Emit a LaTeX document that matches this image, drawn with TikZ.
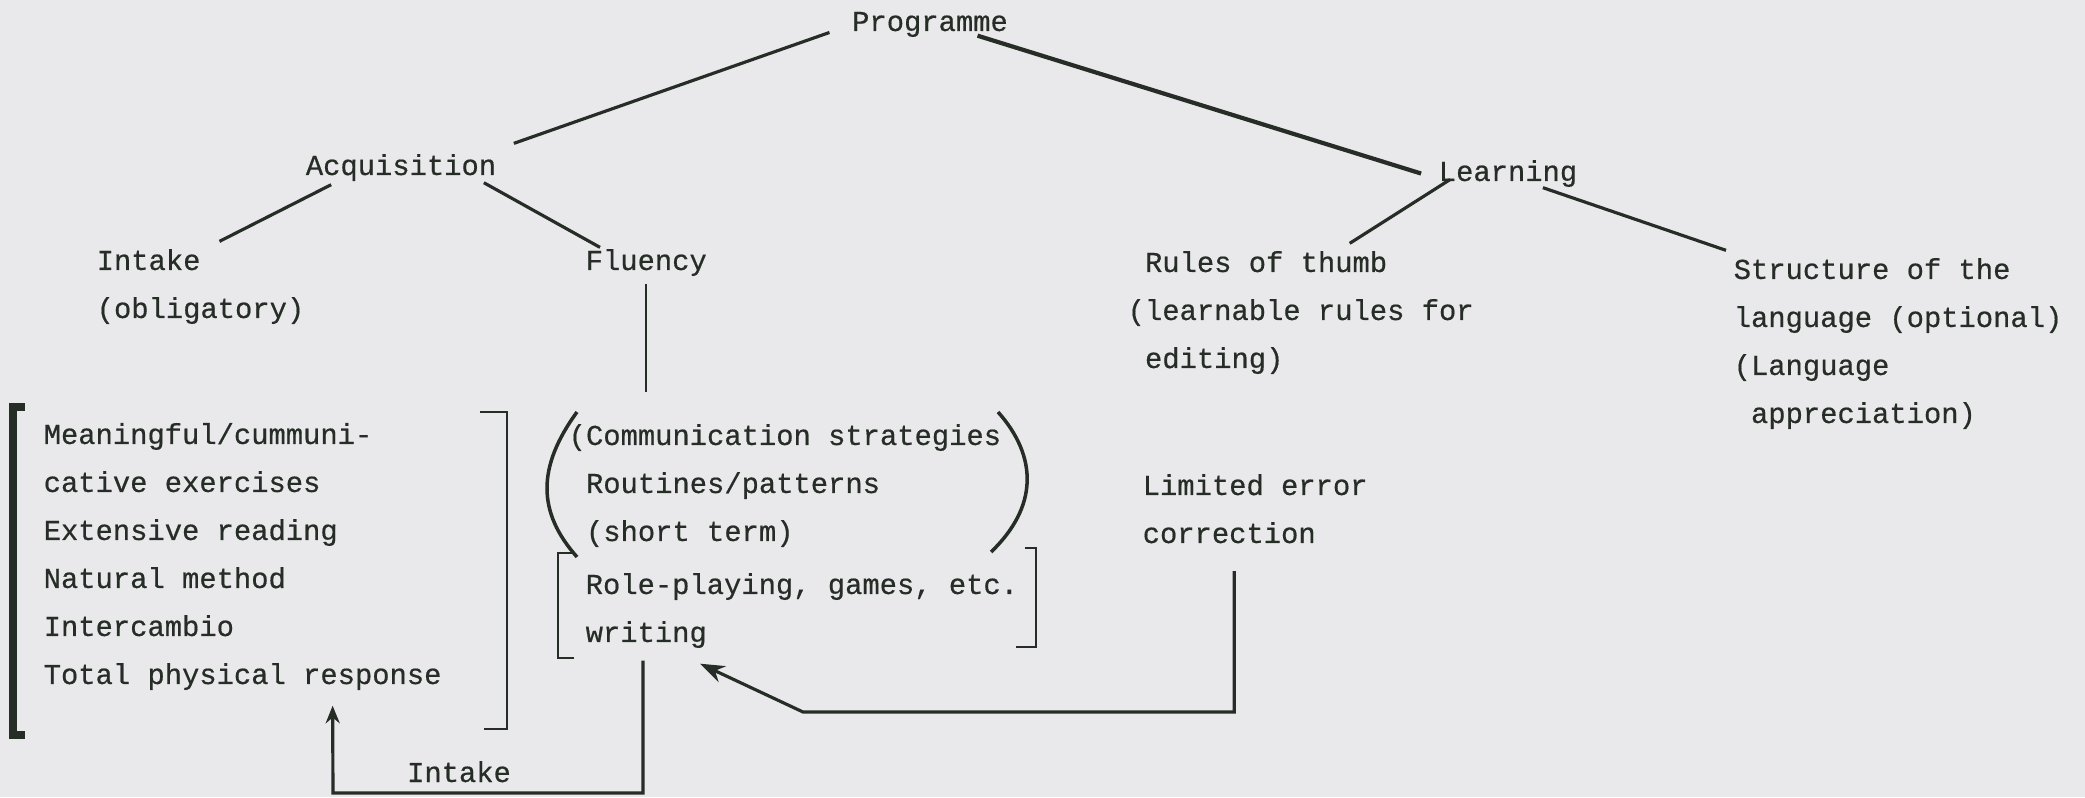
\documentclass[tikz,border=0pt]{standalone}
\usepackage{fontspec}
\setmonofont{Liberation Mono}[FakeBold=0.5]
\usetikzlibrary{arrows.meta}
\definecolor{ink}{RGB}{38,44,38}
\definecolor{paper}{RGB}{233,233,235}

\begin{document}
\begin{tikzpicture}[
    txt/.style={font=\ttfamily\fontsize{8.2}{13.66}\selectfont, text=ink, inner sep=2pt, align=left},
    branch/.style={ink, line width=0.9pt},
    feed/.style={ink, line width=0.9pt, -{Stealth[length=7pt,width=5pt]}},
    brk/.style={ink, line width=0.6pt}
  ]
  % Paper
  \fill[paper] (0,0) rectangle (20.85,7.97);
  \useasboundingbox (0,0) rectangle (20.85,7.97);
  % Tree labels (multi-line nodes sit on their last line)
  \node[txt, anchor=base] (prog) at (9.30,7.66) {Programme};
  \node[txt, anchor=base] (acq) at (4.01,6.22) {Acquisition};
  \node[txt, anchor=base] (learn) at (15.08,6.16) {Learning};
  \node[txt, anchor=base west] (intake) at (0.89,4.79) {Intake\\(obligatory)};
  \node[txt, anchor=base west] (flu) at (5.78,5.27) {Fluency};
  \node[txt, anchor=base west] (rules) at (11.20,4.29)
    {\phantom{(}Rules of thumb\\(learnable rules for\\\phantom{(}editing)};
  \node[txt, anchor=base west] (struct) at (17.26,3.74)
    {Structure of the\\language (optional)\\(Language\\\phantom{(}appreciation)};
  % Activities
  \node[txt, anchor=base west] (meth) at (0.36,1.13)
    {Meaningful/cummuni-\\cative exercises\\Extensive reading\\Natural method\\Intercambio\\Total physical response};
  \node[txt, anchor=base west] (fluA) at (5.61,2.56)
    {(Communication strategies\\\phantom{(}Routines/patterns\\\phantom{(}(short term)};
  \node[txt, anchor=base west] (fluB) at (5.78,1.55)
    {Role-playing, games, etc.\\writing};
  \node[txt, anchor=base west] (limited) at (11.35,2.54)
    {Limited error\\correction};
  \node[txt, anchor=base] (intlbl) at (4.59,0.15) {Intake};
  \coordinate (fluend) at (6.42,4.05);
  \coordinate (elbow) at (8.03,0.85);
  \coordinate (loopbot) at (3.33,0.04);
  % Branches
  \draw[branch] ([shift={(-0.15,-0.08)}]prog.west) -- ([shift={(0.1,0.03)}]acq.north east);
  \draw[branch, line width=1.2pt] ([shift={(-0.38,0.09)}]prog.south east) -- ([xshift=-0.1cm]learn.west);
  \draw[branch] ([shift={(0.33,0.04)}]acq.south west) -- ([xshift=0.19cm]intake.north);
  \draw[branch] ([shift={(-0.2,0.06)}]acq.south east) -- ([shift={(0.22,-0.06)}]flu.north west);
  \draw[branch] ([shift={(0.19,-0.06)}]learn.west) -- ([xshift=0.49cm]rules.north);
  \draw[branch] ([shift={(-0.42,0.07)}]learn.south east) -- (struct.north west);
  \draw[brk] (flu.south) -- (flu.south |- fluend);
  % Brackets round the left list
  \draw[ink, line width=2.2pt] (0.25,3.90) -- (0.13,3.90) -- (0.13,0.62) -- (0.25,0.62);
  \draw[brk] (4.80,3.85) -- (5.07,3.85) -- (5.07,0.68) -- (4.84,0.68);
  % Parentheses and brackets in the middle
  \draw[ink, line width=1pt] (5.77,3.85) .. controls (5.37,3.30) and (5.37,2.85) .. (5.77,2.40);
  \draw[ink, line width=1pt] (9.98,3.85) .. controls (10.38,3.40) and (10.38,2.90) .. (9.91,2.45);
  \draw[brk] (5.74,2.44) -- (5.58,2.44) -- (5.58,1.39) -- (5.74,1.39);
  \draw[brk] (10.25,2.49) -- (10.36,2.49) -- (10.36,1.50) -- (10.16,1.50);
  % Feedback arrows
  \draw[feed] ([shift={(-0.21,-0.2)}]limited.south) |- (elbow)
    -- ([shift={(1.22,-0.08)}]fluB.south west);
  \draw[feed, -{Stealth[length=5pt,width=4pt]}] ([shift={(0.65,-0.05)}]fluB.south west) |- (loopbot)
    -- ([shift={(0.9,-0.08)}]meth.south);
\end{tikzpicture}
\end{document}
